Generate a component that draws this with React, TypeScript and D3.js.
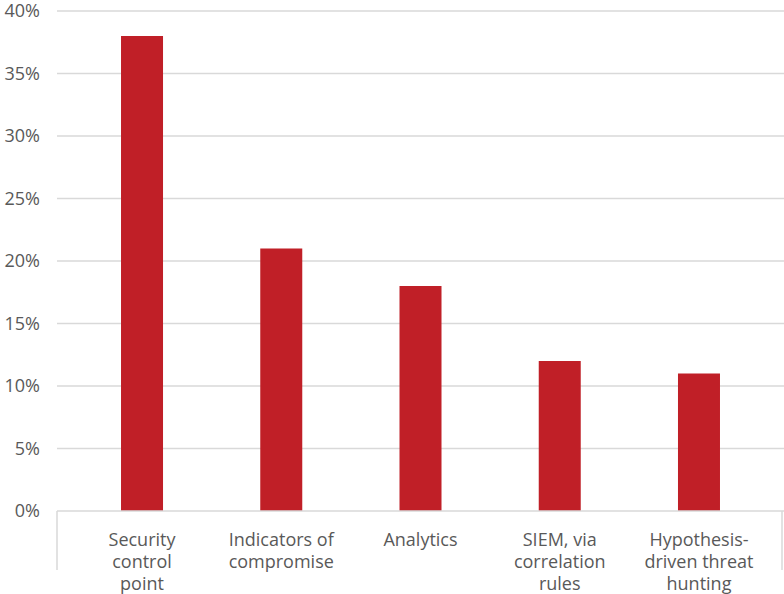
import React from "react";
import * as d3 from "d3";

const categories: string[][] = [
  ["Security", "control", "point"],
  ["Indicators of", "compromise"],
  ["Analytics"],
  ["SIEM, via", "correlation", "rules"],
  ["Hypothesis-", "driven threat", "hunting"],
];
const values: number[] = [38, 21, 18, 12, 11];
const yTicks: number[] = [0, 5, 10, 15, 20, 25, 30, 35, 40];

const W = 784;
const H = 594;
const FONT = "'Open Sans', sans-serif";
const TEXT = "#595959";
const GRID = "#d9d9d9";
const BAR = "#c01f27";

export default function App() {
  const y = d3.scaleLinear().domain([0, 40]).range([511, 11]);
  const x = d3
    .scaleBand<number>()
    .domain(d3.range(values.length))
    .range([72.4, 768.6]);
  const axisLeft = 57;
  const bw = 42;
  const center = (i: number) => (x(i) as number) + x.bandwidth() / 2;

  return (
    <svg
      width={W}
      height={H}
      style={{ position: "absolute", left: 0, top: 0, background: "#fff" }}
    >
      {yTicks.map((t) => (
        <g key={t}>
          {t > 0 && (
            <line x1={axisLeft} x2={W} y1={y(t)} y2={y(t)} stroke={GRID} strokeWidth={1.5} />
          )}
          <text
            x={40}
            y={y(t)}
            dy="0.35em"
            textAnchor="end"
            fontFamily={FONT}
            fontSize={18}
            fill={TEXT}
          >
            {t}%
          </text>
        </g>
      ))}
      {values.map((v, i) => (
        <rect
          key={i}
          x={center(i) - bw / 2}
          y={y(v)}
          width={bw}
          height={y(0) - y(v)}
          fill={BAR}
        />
      ))}
      <line x1={axisLeft} x2={W} y1={y(0)} y2={y(0)} stroke={GRID} strokeWidth={1.5} />
      <line x1={axisLeft} x2={axisLeft} y1={y(0)} y2={570} stroke={GRID} strokeWidth={1.5} />
      <line x1={782} x2={782} y1={y(0)} y2={570} stroke={GRID} strokeWidth={1.5} />
      {categories.map((lines, i) => (
        <text
          key={i}
          x={center(i)}
          y={546}
          textAnchor="middle"
          fontFamily={FONT}
          fontSize={18}
          fill={TEXT}
        >
          {lines.map((l, j) => (
            <tspan key={j} x={center(i)} dy={j === 0 ? 0 : 22}>
              {l}
            </tspan>
          ))}
        </text>
      ))}
    </svg>
  );
}
